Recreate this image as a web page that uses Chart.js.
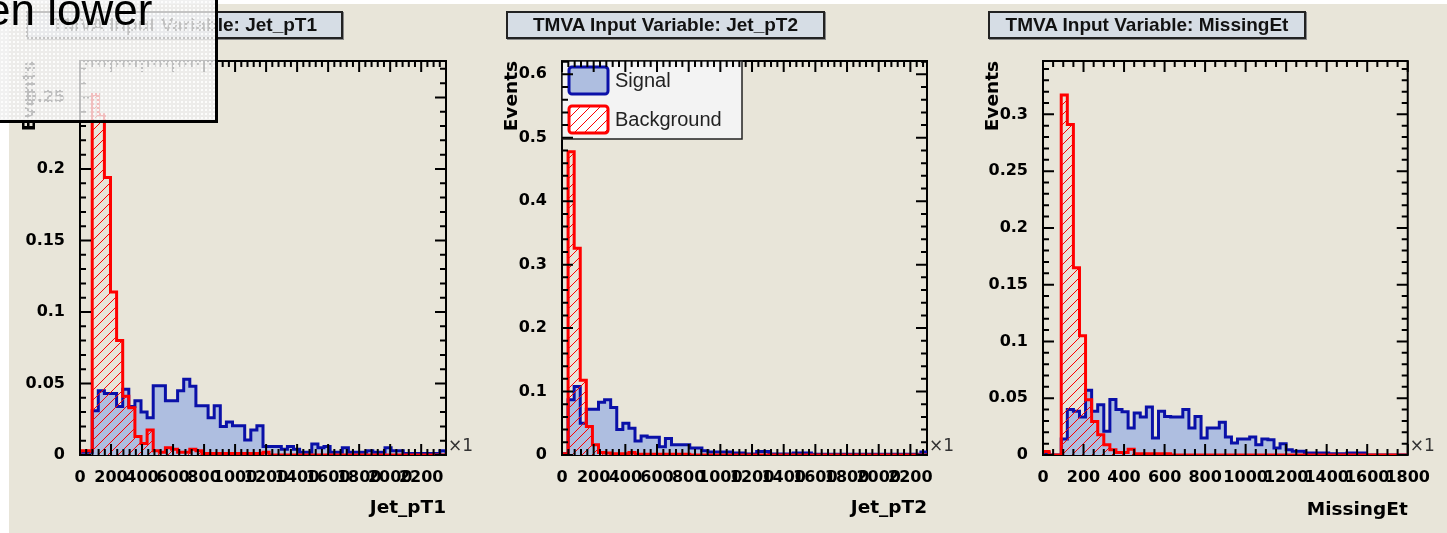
<!DOCTYPE html>
<html>
<head>
<meta charset="utf-8">
<script src="https://cdn.jsdelivr.net/npm/chart.js@4.4.0/dist/chart.umd.min.js"></script>
<style>
  html, body { margin: 0; padding: 0; background: #fff; }
  body { width: 1447px; height: 533px; position: relative; overflow: hidden; }
  #slide { position: absolute; left: 9px; top: 4px; right: 0; bottom: 0; background: #e8e5d9; }
  canvas { position: absolute; top: 4px; }
  .title {
    position: absolute; top: 11px; height: 28px; box-sizing: border-box;
    border: 2px solid #222; background: #d6dde5; box-shadow: 1px 1px 0 #888;
    font: bold 19px "Liberation Sans", Arial, sans-serif; color: #111;
    text-align: center; line-height: 24px; white-space: nowrap; overflow: hidden;
  }
  #overlay {
    position: absolute; left: -3px; top: -3px; width: 221px; height: 126px;
    box-sizing: border-box; border: 3px solid #000; z-index: 5;
    background-color: rgba(238, 238, 238, 0.8);
    background-image: radial-gradient(rgba(255,255,255,0.9) 0.7px, transparent 1px);
    background-size: 4px 4px;
  }
  #overlay span {
    position: absolute; left: -14px; top: -12px; white-space: nowrap;
    font: 44px/44px "Liberation Sans", Arial, sans-serif; color: #000;
  }
</style>
</head>
<body>
<div id="slide"></div>
<canvas id="c1" width="464" height="529" style="left:9px"></canvas>
<canvas id="c2" width="480" height="529" style="left:473px"></canvas>
<canvas id="c3" width="482" height="529" style="left:953px"></canvas>
<div class="title" style="left:26px;width:317px">TMVA Input Variable: Jet_pT1</div>
<div class="title" style="left:506px;width:319px">TMVA Input Variable: Jet_pT2</div>
<div class="title" style="left:988px;width:318px">TMVA Input Variable: MissingEt</div>
<div id="overlay"><span>en lower</span></div>

<script>
// bin contents (60 bins per variable, normalised histograms)
const legendLabels = ["Signal", "Background"];

//Jet_pT1
const pt1Range = [0, 2360];
const pt1Signal = [
  0.002, 0.002, 0.031, 0.045, 0.043, 0.043, 0.034, 0.046, 0.034, 0.038,
  0.030, 0.026, 0.0485, 0.0485, 0.038, 0.038, 0.045, 0.053, 0.048, 0.0345,
  0.0345, 0.026, 0.0345, 0.020, 0.023, 0.0205, 0.0205, 0.0105, 0.0175, 0.0205,
  0.006, 0.006, 0.006, 0.004, 0.006, 0.004, 0.002, 0.002, 0.0077, 0.005,
  0.006, 0.002, 0.002, 0.005, 0.002, 0.002, 0.002, 0.003, 0.002, 0.002,
  0.005, 0.003, 0.003, 0.001, 0.001, 0.001, 0.001, 0.001, 0.001, 0.003
];
const pt1Background = [
  0.003, 0.003, 0.252, 0.238, 0.194, 0.114, 0.080, 0.041, 0.033, 0.013,
  0.008, 0.0175, 0.003, 0.002, 0.005, 0.004, 0.002, 0.002, 0.004, 0.003,
  0.001, 0.001, 0.001, 0.001, 0.001, 0.001, 0.001, 0.001, 0.001, 0.001,
  0.002, 0, 0, 0, 0, 0, 0, 0, 0, 0,
  0, 0, 0, 0, 0, 0, 0, 0, 0, 0,
  0, 0, 0, 0, 0, 0, 0, 0, 0, 0
];

//Jet_pT2
const pt2Range = [0, 2305];
const pt2Signal = [
  0.002, 0.087, 0.108, 0.050, 0.072, 0.072, 0.083, 0.087, 0.075, 0.040,
  0.050, 0.042, 0.022, 0.030, 0.028, 0.028, 0.013, 0.026, 0.016, 0.016,
  0.016, 0.011, 0.011, 0.0068, 0.0047, 0.0047, 0.0047, 0.0047, 0.003, 0.003,
  0.0015, 0.0015, 0.0057, 0.0057, 0.0015, 0.0015, 0.0015, 0.0015, 0.003, 0.003,
  0.003, 0.001, 0.001, 0.001, 0.001, 0.001, 0.001, 0.001, 0.001, 0.001,
  0.001, 0.001, 0.001, 0.001, 0.001, 0.001, 0.001, 0.001, 0.001, 0.0047
];
const pt2Background = [
  0.002, 0.478, 0.326, 0.118, 0.045, 0.016, 0.004, 0.003, 0.002, 0.002,
  0.002, 0.004, 0.001, 0.001, 0.001, 0.001, 0.001, 0.001, 0.001, 0.001,
  0.001, 0, 0, 0, 0, 0, 0, 0, 0, 0,
  0, 0, 0, 0, 0, 0, 0, 0, 0, 0,
  0, 0, 0, 0, 0, 0, 0, 0, 0, 0,
  0, 0, 0, 0, 0, 0, 0, 0, 0, 0
];

//MissingEt
const metRange = [0, 1800];
const metSignal = [
  0.002, 0, 0, 0.014, 0.040, 0.0385, 0.0335, 0.057, 0.0385, 0.0443,
  0.0209, 0.0488, 0.040, 0.038, 0.0238, 0.037, 0.0335, 0.0423, 0.015, 0.0385,
  0.034, 0.0335, 0.0335, 0.040, 0.0238, 0.034, 0.015, 0.0238, 0.0238, 0.0288,
  0.0159, 0.0106, 0.0141, 0.0141, 0.0159, 0.0091, 0.0141, 0.0135, 0.0062, 0.010,
  0.0047, 0.0032, 0.0032, 0.0018, 0.0018, 0.0018, 0.0018, 0.001, 0.001, 0.001,
  0.0018, 0.0018, 0.0018, 0, 0, 0, 0, 0, 0, 0
];
const metBackground = [
  0.003, 0, 0, 0.317, 0.291, 0.165, 0.105, 0.0487, 0.0296, 0.0178,
  0.009, 0.0047, 0.0023, 0.0023, 0.005, 0.001, 0.001, 0.001, 0.001, 0.001,
  0.001, 0, 0, 0, 0, 0, 0, 0, 0, 0,
  0, 0, 0, 0, 0, 0, 0, 0, 0, 0,
  0, 0, 0, 0, 0, 0, 0, 0, 0, 0,
  0, 0, 0, 0, 0, 0, 0, 0, 0, 0
];

// axis settings: tick steps and y maximum for each panel
const xTickSteps = [200, 200, 200];
const xMinorDivs = [5, 5, 4];
const yTickSteps = [0.05, 0.1, 0.05];
const yMinorDivs = [5, 5, 5];
const yMaxima = [0.2755, 0.621, 0.347];
const xTitles = ["Jet_pT1", "Jet_pT2", "MissingEt"];

////////////////////////////////////////////////////
const SIG_LINE = "#0a10a8";
const SIG_FILL = "rgb(174,190,224)";
const BKG_LINE = "#ff0000";

// red "////" hatch used by ROOT for the background histogram
function makeHatch(color) {
  const c = document.createElement("canvas");
  c.width = 10;
  c.height = 10;
  const g = c.getContext("2d");
  g.strokeStyle = color;
  g.lineWidth = 1;
  g.beginPath();
  g.moveTo(0, 10); g.lineTo(10, 0);
  g.moveTo(-5, 5); g.lineTo(5, -5);
  g.moveTo(5, 15); g.lineTo(15, 5);
  g.stroke();
  return g.createPattern(c, "repeat");
}
const hatch = makeHatch(BKG_LINE);

// turn bin contents into the outline points of a step histogram
function histPoints(values, range) {
  const w = (range[1] - range[0]) / values.length;
  const pts = [{ x: range[0], y: 0 }];
  values.forEach((v, i) => pts.push({ x: range[0] + i * w, y: v }));
  pts.push({ x: range[1], y: values[values.length - 1] });
  pts.push({ x: range[1], y: 0 });
  return pts;
}

// fixed tick list: every step from the axis minimum up to its maximum
function stepTicks(min, max, step) {
  const t = [];
  for (let k = 0; min + k * step <= max + 1e-9; k++) t.push({ value: +(min + k * step).toFixed(6) });
  return t;
}

function drawLegend(ctx, a) {
  const x0 = a.left, y0 = a.top, w = 180, h = 78;
  ctx.save();
  ctx.fillStyle = "#f3f3f3";
  ctx.fillRect(x0, y0, w, h);
  ctx.strokeStyle = "#222";
  ctx.lineWidth = 1.5;
  ctx.strokeRect(x0, y0, w, h);
  const rows = [
    { y: y0 + 6, under: SIG_FILL, fill: SIG_FILL, line: SIG_LINE },
    { y: y0 + 45, under: "#fff", fill: hatch, line: BKG_LINE },
  ];
  rows.forEach((r, i) => {
    ctx.beginPath();
    if (ctx.roundRect) ctx.roundRect(x0 + 7, r.y, 39, 27, 3);
    else ctx.rect(x0 + 7, r.y, 39, 27);
    ctx.fillStyle = r.under;
    ctx.fill();
    ctx.fillStyle = r.fill;
    ctx.fill();
    ctx.lineWidth = 3;
    ctx.strokeStyle = r.line;
    ctx.stroke();
    ctx.font = '20px "Liberation Sans", Arial, sans-serif';
    ctx.fillStyle = "#222";
    ctx.textBaseline = "middle";
    ctx.fillText(legendLabels[i], x0 + 53, r.y + 14);
  });
  ctx.restore();
}

// ROOT look: frame, inward ticks on all four sides, legend and the x10 marker
const rootStyle = {
  id: "rootStyle",
  beforeDatasetsDraw(chart) {
    const { ctx, chartArea: a } = chart;
    ctx.save();
    ctx.strokeStyle = "#000";
    ctx.lineWidth = 2;
    ctx.strokeRect(a.left, a.top, a.right - a.left, a.bottom - a.top);
    ctx.restore();
  },
  afterDatasetsDraw(chart, args, opts) {
    const { ctx, chartArea: a } = chart;
    const xs = chart.scales.x, ys = chart.scales.y;
    if (opts.legend) drawLegend(ctx, a);
    ctx.save();
    ctx.strokeStyle = "#000";
    ctx.lineWidth = 2;
    ctx.beginPath();
    const xMinor = opts.xStep / opts.xSub;
    for (let k = 0; k * xMinor <= xs.max + 1e-9; k++) {
      const px = xs.getPixelForValue(k * xMinor);
      const len = k % opts.xSub === 0 ? 11 : 6;
      ctx.moveTo(px, a.bottom); ctx.lineTo(px, a.bottom - len);
      ctx.moveTo(px, a.top); ctx.lineTo(px, a.top + len);
    }
    const yMinor = opts.yStep / opts.ySub;
    for (let k = 0; k * yMinor <= ys.max + 1e-9; k++) {
      const py = ys.getPixelForValue(k * yMinor);
      const len = k % opts.ySub === 0 ? 11 : 6;
      ctx.moveTo(a.left, py); ctx.lineTo(a.left + len, py);
      ctx.moveTo(a.right, py); ctx.lineTo(a.right - len, py);
    }
    ctx.stroke();
    ctx.font = '17px "DejaVu Sans", sans-serif';
    ctx.fillStyle = "#333";
    ctx.textBaseline = "middle";
    ctx.fillText("\u00d710", a.right + 2, a.bottom - 8);
    ctx.restore();
  },
};

const tickFont = { family: "DejaVu Sans", weight: "bold", size: 16 };
const titleFont = { family: "DejaVu Sans", weight: "bold", size: 18.5 };

function makePanel(canvasId, idx, range, sig, bkg, box) {
  return new Chart(document.getElementById(canvasId), {
    type: "line",
    data: {
      datasets: [
        {
          label: legendLabels[0],
          data: histPoints(sig, range),
          stepped: true,
          fill: "origin",
          borderColor: SIG_LINE,
          backgroundColor: SIG_FILL,
          borderWidth: 3,
          pointRadius: 0,
          order: 2,
        },
        {
          label: legendLabels[1],
          data: histPoints(bkg, range),
          stepped: true,
          fill: "origin",
          borderColor: BKG_LINE,
          backgroundColor: hatch,
          borderWidth: 3,
          pointRadius: 0,
          order: 1,
        },
      ],
    },
    options: {
      responsive: false,
      animation: false,
      devicePixelRatio: 1,
      events: [],
      layout: { padding: { left: 0, top: box.top, right: box.right, bottom: 0 } },
      plugins: {
        legend: { display: false },
        tooltip: { enabled: false },
        rootStyle: {
          legend: box.legend,
          xStep: xTickSteps[idx], xSub: xMinorDivs[idx],
          yStep: yTickSteps[idx], ySub: yMinorDivs[idx],
        },
      },
      scales: {
        x: {
          type: "linear",
          min: range[0],
          max: range[1],
          grid: { display: false },
          border: { display: false },
          afterBuildTicks: (s) => { s.ticks = stepTicks(range[0], range[1], xTickSteps[idx]); },
          afterFit: (s) => { s.height = box.xHeight; },
          ticks: {
            autoSkip: false,
            maxRotation: 0,
            minRotation: 0,
            padding: 5,
            color: "#000",
            font: tickFont,
            callback: (v) => String(+v.toFixed(4)),
          },
          title: {
            display: true,
            text: xTitles[idx],
            align: "end",
            color: "#000",
            font: titleFont,
            padding: { top: 0, bottom: box.xTitlePad },
          },
        },
        y: {
          min: 0,
          max: yMaxima[idx],
          grid: { display: false },
          border: { display: false },
          afterBuildTicks: (s) => { s.ticks = stepTicks(0, yMaxima[idx], yTickSteps[idx]); },
          afterFit: (s) => { s.width = box.yWidth; },
          ticks: {
            padding: 7,
            color: "#000",
            font: tickFont,
            callback: (v) => String(+v.toFixed(4)),
          },
          title: {
            display: true,
            text: "Events",
            align: "end",
            color: "#000",
            font: titleFont,
            padding: { top: box.yTitlePad, bottom: 0 },
          },
        },
      },
    },
    plugins: [rootStyle],
  });
}

makePanel("c1", 0, pt1Range, pt1Signal, pt1Background,
  { top: 57, right: 27, yWidth: 71, xHeight: 78, xTitlePad: 14, yTitlePad: 10, legend: false });
makePanel("c2", 1, pt2Range, pt2Signal, pt2Background,
  { top: 57, right: 26, yWidth: 89, xHeight: 78, xTitlePad: 14, yTitlePad: 28, legend: true });
makePanel("c3", 2, metRange, metSignal, metBackground,
  { top: 57, right: 27, yWidth: 90, xHeight: 78, xTitlePad: 12, yTitlePad: 29, legend: false });
</script>
</body>
</html>
